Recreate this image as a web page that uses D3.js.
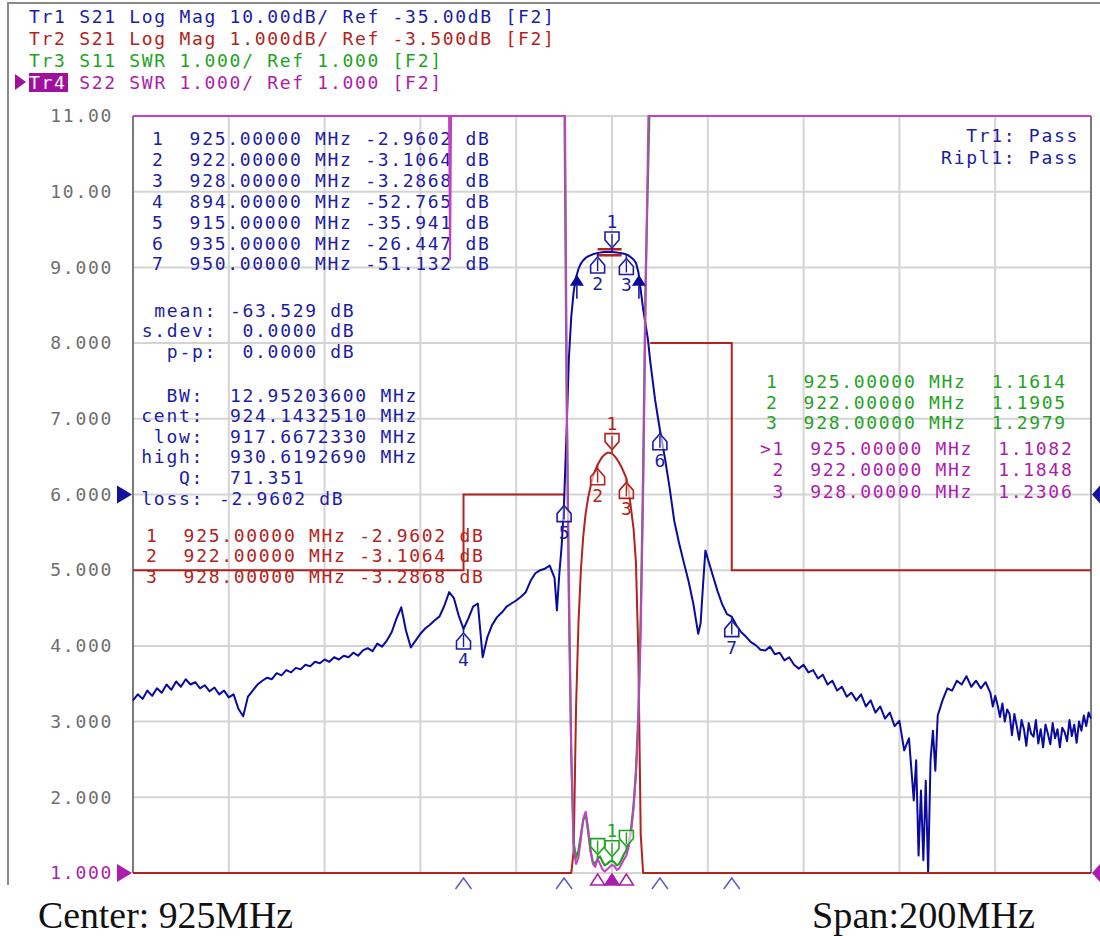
<!DOCTYPE html>
<html>
<head>
<meta charset="utf-8">
<script src="https://cdn.jsdelivr.net/npm/d3@7"></script>
<style>
body { margin: 0; background: #fff; }
svg { display: block; }
text { font-family: "DejaVu Sans Mono", monospace; font-size: 18px; letter-spacing: 1.7px; white-space: pre; }
</style>
</head>
<body>
<svg id="chart" width="1100" height="936"></svg>
<script>
// sweep
const freqStart = 825
const freqStop = 1025
const freqStep = 20

// display scales: [ref value, per division, ref position (division)]
const tr1Scale = [-35, 10, 5]
const tr2Scale = [-3.5, 1, 5]
const swrScale = [1, 1, 0]

const swrTickLabels = ["1.000", "2.000", "3.000", "4.000", "5.000", "6.000", "7.000", "8.000", "9.000", "10.00", "11.00"]

const headerLines = [
	"Tr1 S21 Log Mag 10.00dB/ Ref -35.00dB [F2]",
	"Tr2 S21 Log Mag 1.000dB/ Ref -3.500dB [F2]",
	"Tr3 S11 SWR 1.000/ Ref 1.000 [F2]",
	"Tr4 S22 SWR 1.000/ Ref 1.000 [F2]"
]

// S21 [MHz, dB]
const s21 = [
	[825, -62.2], [826, -61.4], [827, -62.0], [828, -60.9], [829, -61.6], [830, -60.6], [831, -61.2], [832, -60.1],
	[833, -60.8], [834, -59.7], [835, -60.4], [836, -59.4], [837, -60.1], [838, -59.8], [839, -60.6], [840, -60.2],
	[841, -61.0], [842, -60.5], [843, -61.4], [844, -60.9], [845, -61.8], [846, -61.4], [847, -63.3], [848, -64.3],
	[849, -61.7], [850, -60.9], [851, -60.1], [852, -59.6], [853, -59.2], [854, -59.4], [855, -58.6], [856, -58.9],
	[857, -58.2], [858, -58.5], [859, -57.9], [860, -58.1], [861, -57.5], [862, -57.7], [863, -57.1], [864, -57.3],
	[865, -56.8], [866, -57.1], [867, -56.5], [868, -56.8], [869, -56.3], [870, -56.5], [871, -55.9], [872, -56.3],
	[873, -55.6], [874, -55.3], [875, -55.7], [876, -54.7], [877, -55.1], [878, -54.3], [879, -53.2], [880, -51.4],
	[881, -49.9], [882, -53.0], [883, -55.2], [884, -54.3], [885, -53.4], [886, -52.7], [887, -52.2], [888, -51.6],
	[889, -51.1], [890, -49.7], [891, -47.9], [892, -48.7], [893, -51.0], [894, -52.765], [895, -51.4], [896, -49.8],
	[897, -49.4], [898, -56.5], [899, -53.8], [900, -52.2], [901, -51.2], [902, -50.6], [903, -49.8], [904, -49.4],
	[905, -49.0], [906, -48.5], [907, -47.9], [908, -46.4], [909, -45.4], [910, -45.0], [911, -44.8], [912, -44.4],
	[913, -46.0], [913.5, -50.3], [914, -45.5], [914.5, -41.7], [915, -35.941], [915.5, -27], [916, -17], [916.5, -11.5],
	[917, -8.2], [917.5, -6.3], [918, -5.2], [918.5, -4.5], [919, -4.05], [919.5, -3.75], [920, -3.55], [920.5, -3.4],
	[921, -3.27], [921.5, -3.18], [922, -3.1064], [922.5, -3.05], [923, -3.0], [923.5, -2.97], [924, -2.95], [924.5, -2.95],
	[925, -2.9602], [925.5, -2.99], [926, -3.03], [926.5, -3.08], [927, -3.14], [927.5, -3.21], [928, -3.2868], [928.5, -3.45],
	[929, -3.7], [929.5, -3.95], [930, -4.4], [930.5, -5.6], [931, -8.0], [931.5, -10.5], [932, -12.5], [932.5, -14.5],
	[933, -17.5], [933.5, -20], [934, -22.5], [934.5, -24.5], [935, -26.447], [936, -30], [937, -34], [938, -38.5],
	[939, -41.4], [940, -44], [941, -46.5], [942, -49.5], [943, -53.4], [943.5, -52], [944, -47], [944.5, -42.4],
	[945, -43.5], [946, -45.6], [947, -47.7], [948, -49.5], [949, -50.8], [950, -51.132], [951, -52.3], [952, -53.2],
	[953, -53.8], [954, -54.5], [955, -54.9], [956, -55.5], [957, -55.6], [958, -55.1], [959, -56.1], [960, -55.9],
	[961, -56.9], [962, -56.5], [963, -57.5], [964, -58.0], [965, -57.5], [966, -58.5], [967, -58.2], [968, -59.3],
	[969, -58.8], [970, -60.1], [971, -59.6], [972, -60.9], [973, -60.4], [974, -61.7], [975, -61.2], [976, -62.2],
	[977, -61.4], [978, -63.0], [979, -62.2], [980, -63.8], [981, -63.0], [982, -64.6], [983, -63.8], [984, -65.6],
	[985, -64.9], [986, -68.8], [987, -67.2], [988, -75.4], [988.5, -70.1], [989, -82.7], [989.5, -74.1], [990, -83.3],
	[990.5, -72.8], [991, -86], [991.5, -70.1], [992, -66.2], [992.5, -71.5], [993, -64.2], [994, -62.2], [995, -60.6],
	[996, -60.9], [997, -59.6], [998, -60.1], [999, -59.0], [1000, -60.4], [1001, -59.6], [1002, -60.6], [1003, -59.8],
	[1004, -61.2], [1004.5, -63.0], [1005, -61.6], [1005.5, -62.8], [1006, -64.4], [1006.5, -62.6], [1007, -65.0], [1007.5, -63.4],
	[1008, -64.0], [1008.5, -66.8], [1009, -64.0], [1009.5, -65.6], [1010, -67.4], [1010.5, -64.8], [1011, -66.0], [1011.5, -68.2],
	[1012, -65.2], [1012.5, -66.6], [1013, -67.0], [1013.5, -64.8], [1014, -67.9], [1014.5, -66.0], [1015, -68.4], [1015.5, -65.4],
	[1016, -66.6], [1016.5, -68.0], [1017, -65.2], [1017.5, -67.2], [1018, -66.0], [1018.5, -68.4], [1019, -65.8], [1019.5, -66.4],
	[1020, -67.6], [1020.5, -64.8], [1021, -66.9], [1021.5, -65.4], [1022, -67.8], [1022.5, -65.0], [1023, -66.2], [1023.5, -64.2],
	[1024, -65.6], [1024.5, -63.8], [1025, -64.6]
]

// S11 SWR [MHz, SWR]
const s11 = [
	[825, 40], [891.1, 40], [891.2, 10.6], [891.3, 40], [914.7, 40], [915.1, 11.5], [915.5, 7.5], [916, 4.8],
	[916.5, 2.6], [917, 1.4], [917.5, 1.2], [918, 1.3], [918.5, 1.5], [919, 1.7], [919.5, 1.78], [920, 1.55],
	[920.5, 1.3], [921, 1.15], [921.5, 1.12], [922, 1.1905], [922.5, 1.22], [923, 1.15], [923.5, 1.1], [924, 1.12],
	[924.5, 1.15], [925, 1.1614], [925.5, 1.14], [926, 1.1], [926.5, 1.12], [927, 1.18], [927.5, 1.25], [928, 1.2979],
	[928.5, 1.4], [929, 1.6], [929.5, 1.9], [930, 2.35], [930.5, 3.1], [931, 4.4], [931.5, 6.3], [932, 8.8],
	[932.8, 11.5], [933.1, 40], [1025, 40]
]

// S22 SWR [MHz, SWR]
const s22 = [
	[825, 40], [891.0, 40], [891.2, 9.1], [891.4, 40], [914.8, 40], [915.2, 11.5], [915.6, 7], [916, 4.5],
	[916.5, 2.5], [917, 1.3], [917.5, 1.12], [918, 1.2], [918.5, 1.45], [919, 1.72], [919.5, 1.81], [920, 1.6],
	[920.5, 1.3], [921, 1.12], [921.5, 1.08], [922, 1.1848], [922.5, 1.12], [923, 1.05], [923.5, 1.02], [924, 1.05],
	[924.5, 1.08], [925, 1.1082], [925.5, 1.09], [926, 1.04], [926.5, 1.06], [927, 1.12], [927.5, 1.18], [928, 1.2306],
	[928.5, 1.35], [929, 1.55], [929.5, 1.85], [930, 2.3], [930.5, 3.0], [931, 4.2], [931.5, 6.0], [932, 8.5],
	[932.6, 11.5], [932.9, 40], [1025, 40]
]

// Tr1 limit lines [MHz, dB]
const limitLow = [[825, -45], [894, -45], [894, -35], [915, -35]]
const limitHigh = [[933, -15], [950, -15], [950, -45], [1025, -45]]
const rippleFreq = [922, 927]
const rippleLevels = [-2.6, -3.4]

// markers [MHz, value]
const tr1Markers = [[925, -2.9602], [922, -3.1064], [928, -3.2868], [894, -52.765], [915, -35.941], [935, -26.447], [950, -51.132]]
const tr2Markers = [[925, -2.9602], [922, -3.1064], [928, -3.2868]]
const tr3Markers = [[925, 1.1614], [922, 1.1905], [928, 1.2979]]
const tr4Markers = [[925, 1.1082], [922, 1.1848], [928, 1.2306]]

const statMean = -63.529
const statDev = 0
const statPp = 0
const bwValue = 12.952036
const bwCenter = 924.143251
const bwLow = 917.667233
const bwHigh = 930.619269
const bwQ = 71.351
const bwLoss = -2.9602

const blue = "#1c1ca3", blueTrace = "#0a0a9e"
const red = "#b3221c"
const green = "#1fa31f"
const magenta = "#ad1cad", magentaTrace = "#c23fc6"

const svg = d3.select("#chart")
const plotLeft = 133, plotRight = 1091, plotTop = 116, plotBottom = 873

const x = d3.scaleLinear().domain([freqStart, freqStop]).range([plotLeft, plotRight])
const yDiv = d3.scaleLinear().domain([0, 10]).range([plotBottom, plotTop])
const scaleFrom = ([ref, per, pos]) => d3.scaleLinear()
	.domain([ref - pos * per, ref + (10 - pos) * per]).range([plotBottom, plotTop]).clamp(true)
const yTr1 = scaleFrom(tr1Scale)
const yTr2 = scaleFrom(tr2Scale)
const ySwr = scaleFrom(swrScale)

// frame
svg.append("path").attr("d", "M8,885 L8,3 L1100,3").attr("fill", "none").attr("stroke", "#8a8a8a").attr("stroke-width", 2)

// header
const headerColors = [blue, red, green, magenta]
headerLines.forEach((line, i) => {
	const yb = 23 + i * 22
	if (i === 3) {
		svg.append("path").attr("d", `M15,${yb - 15} L26,${yb - 7} L15,${yb + 1} Z`).attr("fill", "#a0109f")
		svg.append("rect").attr("x", 29).attr("y", yb - 16).attr("width", 39).attr("height", 19).attr("fill", "#a0109f")
	}
	const t = svg.append("text").attr("x", 29).attr("y", yb).attr("xml:space", "preserve")
	if (i === 3) {
		t.append("tspan").attr("fill", "#fff").text(line.slice(0, 3))
		t.append("tspan").attr("fill", headerColors[i]).text(line.slice(3))
	} else {
		t.attr("fill", headerColors[i]).text(line)
	}
})

// grid
svg.append("g").selectAll("line").data(d3.range(freqStart, freqStop + 1, freqStep)).join("line")
	.attr("x1", d => x(d)).attr("x2", d => x(d)).attr("y1", plotTop).attr("y2", plotBottom)
	.attr("stroke", "#d4d4d4").attr("stroke-width", 2)
svg.append("g").selectAll("line").data(d3.range(0, 11)).join("line")
	.attr("x1", plotLeft).attr("x2", plotRight).attr("y1", d => yDiv(d)).attr("y2", d => yDiv(d))
	.attr("stroke", "#d4d4d4").attr("stroke-width", 2)
svg.append("line").attr("x1", plotLeft).attr("x2", plotLeft).attr("y1", plotTop).attr("y2", plotBottom).attr("stroke", "#7a7a7a").attr("stroke-width", 2)
svg.append("line").attr("x1", plotRight).attr("x2", plotRight).attr("y1", plotTop).attr("y2", plotBottom).attr("stroke", "#7a7a7a").attr("stroke-width", 2)

// y axis labels (active trace Tr4)
const axis = svg.append("g").attr("transform", "translate(113,0)")
	.call(d3.axisLeft(ySwr).tickValues(d3.range(1, 12)).tickFormat((d, i) => swrTickLabels[i]).tickSize(0).tickPadding(0))
axis.attr("font-size", null).attr("font-family", null)
axis.select(".domain").remove()
axis.selectAll("text").attr("fill", (d, i) => (i === 0 ? magenta : "#6e6e6e"))

// marker tables
const textRows = (rows, x0, y0, dy, color, anchor = "start") =>
	rows.forEach((r, i) => svg.append("text").attr("x", x0).attr("y", y0 + i * dy).attr("fill", color)
		.attr("text-anchor", anchor).attr("xml:space", "preserve").text(r))

textRows(tr1Markers.map(([f, v], i) => `${i + 1}  ${f.toFixed(5)} MHz ${v.toPrecision(5)} dB`), 152, 145, 20.9, blue)
textRows(["mean:", "s.dev:", "p-p:"], 217, 316.5, 20.7, blue, "end")
textRows([`${statMean.toFixed(3)} dB`, ` ${statDev.toFixed(4)} dB`, ` ${statPp.toFixed(4)} dB`], 230, 316.5, 20.7, blue)
textRows(["BW:", "cent:", "low:", "high:", "Q:", "loss:"], 204, 401.5, 20.6, blue, "end")
textRows([bwValue.toFixed(8) + " MHz", bwCenter.toFixed(7) + " MHz", bwLow.toFixed(7) + " MHz",
	bwHigh.toFixed(7) + " MHz", bwQ.toFixed(3)], 230, 401.5, 20.6, blue)
svg.append("text").attr("x", 219).attr("y", 504.5).attr("fill", blue).text(`${bwLoss.toPrecision(5)} dB`)
textRows(tr2Markers.map(([f, v], i) => `${i + 1}  ${f.toFixed(5)} MHz ${v.toPrecision(5)} dB`), 146, 541.5, 20.5, red)
textRows(tr3Markers.map(([f, v], i) => `${i + 1}  ${f.toFixed(5)} MHz  ${v.toPrecision(5)}`), 766, 388, 20.7, green)
textRows(tr4Markers.map(([f, v], i) => `${i === 0 ? ">" : " "}${i + 1}  ${f.toFixed(5)} MHz  ${v.toPrecision(5)}`), 760, 454.5, 21.8, magenta)
textRows(["Tr1: Pass", "Ripl1: Pass"], 1079, 141.5, 22, blue, "end")

// limit lines
const limLine = d3.line().x(d => x(d[0])).y(d => yTr1(d[1]))
;[limitLow, limitHigh].forEach(l => svg.append("path").attr("d", limLine(l))
	.attr("fill", "none").attr("stroke", red).attr("stroke-width", 2))
rippleLevels.forEach(v => svg.append("line").attr("x1", x(rippleFreq[0])).attr("x2", x(rippleFreq[1]))
	.attr("y1", yTr1(v)).attr("y2", yTr1(v)).attr("stroke", red).attr("stroke-width", 2.5))

// traces
const trace = (data, yScale, color, width) => svg.append("path")
	.attr("d", d3.line().x(d => x(d[0])).y(d => yScale(d[1]))(data))
	.attr("fill", "none").attr("stroke", color).attr("stroke-width", width).attr("stroke-linejoin", "round")
trace(s21, yTr1, blueTrace, 2)
trace(s21, yTr2, red, 2)
trace(s11, ySwr, green, 2.2)
trace(s22, ySwr, magentaTrace, 2)

// marker symbols
const drawMarker = (f, v, yScale, label, color, above) => {
	const px = x(f), py = yScale(v), s = above ? -1 : 1
	const g = svg.append("g").attr("transform", `translate(${px},${py})`)
	g.append("path").attr("d", `M0,0 L0,${4 * s} L-7,${12 * s} L-7,${20 * s} L7,${20 * s} L7,${12 * s} L0,${4 * s}`)
		.attr("fill", "#fff").attr("fill-opacity", 0.6).attr("stroke", color).attr("stroke-width", 1.6)
	g.append("line").attr("x1", 0).attr("x2", 0).attr("y1", 6 * s).attr("y2", 18 * s).attr("stroke", color).attr("stroke-width", 1.4)
	if (label) {
		g.append("text").attr("x", 0).attr("y", above ? -24 : 37).attr("text-anchor", "middle")
			.attr("fill", color).attr("font-size", 17).style("letter-spacing", "0px").text(label)
	}
}
tr1Markers.forEach(([f, v], i) => drawMarker(f, v, yTr1, i + 1, blue, i === 0))
tr2Markers.forEach(([f, v], i) => drawMarker(f, v, yTr2, i + 1, red, i === 0))
tr3Markers.forEach(([f, v], i) => drawMarker(f, v, ySwr, i === 0 ? 1 : null, green, true))

// bandwidth points
;[bwLow, bwHigh].forEach(f => {
	const px = x(f), py = yTr1(bwLoss - 3)
	svg.append("path").attr("d", `M${px},${py} L${px - 7},${py + 11} L${px + 7},${py + 11} Z`).attr("fill", blueTrace)
	svg.append("line").attr("x1", px).attr("x2", px).attr("y1", py + 11).attr("y2", py + 24).attr("stroke", blueTrace).attr("stroke-width", 1.5)
})

// stimulus markers under the grid
tr1Markers.slice(3).forEach(([f]) => svg.append("path")
	.attr("d", `M${x(f) - 8},${plotBottom + 16} L${x(f)},${plotBottom + 5} L${x(f) + 8},${plotBottom + 16}`)
	.attr("fill", "none").attr("stroke", "#5a5ad0").attr("stroke-width", 1.5))
tr4Markers.forEach(([f], i) => svg.append("path")
	.attr("d", `M${x(f) - 7},${plotBottom + 12} L${x(f)},${plotBottom + 1} L${x(f) + 7},${plotBottom + 12} Z`)
	.attr("fill", i === 0 ? magenta : "#fff").attr("stroke", magenta).attr("stroke-width", 1.5))

// reference position arrows
const refArrow = (yv, color, side) => {
	const py = yDiv(yv)
	const d = side === "left"
		? `M117,${py - 9} L132,${py} L117,${py + 9} Z`
		: `M1100,${py - 9} L1092,${py} L1100,${py + 9} Z`
	svg.append("path").attr("d", d).attr("fill", color)
}
refArrow(tr1Scale[2], "#12129a", "left")
refArrow(tr1Scale[2], "#12129a", "right")
refArrow(swrScale[2], magenta, "left")
refArrow(swrScale[2], magenta, "right")

// footer
svg.append("text").attr("x", 38).attr("y", 928).attr("textLength", 255).attr("lengthAdjust", "spacingAndGlyphs")
	.style("font-family", "'Liberation Serif', serif").style("font-size", "38px").style("letter-spacing", "0px")
	.attr("fill", "#111").text(`Center: ${(freqStart + freqStop) / 2}MHz`)
svg.append("text").attr("x", 812).attr("y", 928).attr("textLength", 223).attr("lengthAdjust", "spacingAndGlyphs")
	.style("font-family", "'Liberation Serif', serif").style("font-size", "38px").style("letter-spacing", "0px")
	.attr("fill", "#111").text(`Span:${freqStop - freqStart}MHz`)
</script>
</body>
</html>
